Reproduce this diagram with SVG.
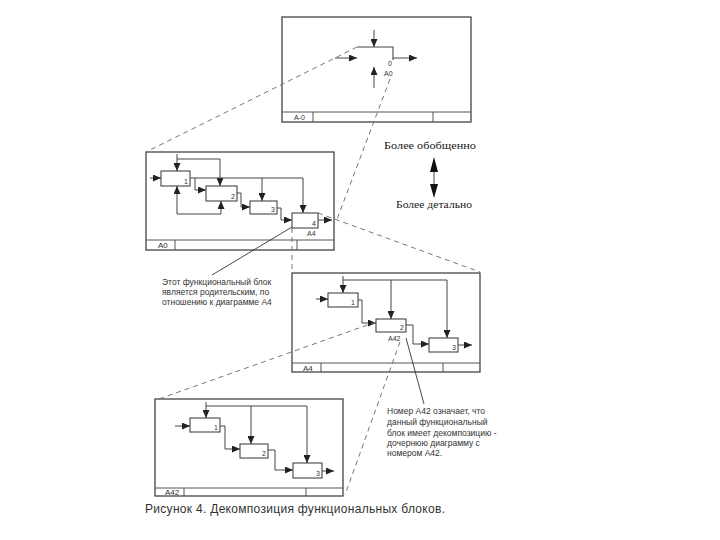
<svg xmlns="http://www.w3.org/2000/svg" width="720" height="540" viewBox="0 0 720 540">
<defs>
<marker id="ah" markerUnits="userSpaceOnUse" markerWidth="9" markerHeight="7" refX="8" refY="3.5" orient="auto">
<path d="M0,0 L8,3.5 L0,7 Z" fill="#222"/>
</marker>
<style>
.frame{fill:#fff;stroke:#444;stroke-width:1.3}
.bar{fill:none;stroke:#555;stroke-width:1}
.box{fill:#fff;stroke:#444;stroke-width:1.1}
.c{fill:none;stroke:#444;stroke-width:1}
.a{fill:none;stroke:#444;stroke-width:1;marker-end:url(#ah)}
.d{fill:none;stroke:#777;stroke-width:1;stroke-dasharray:5,4}
.p{fill:none;stroke:#333;stroke-width:0.9}
.t{font-family:"Liberation Sans",Arial,sans-serif;fill:#333}
.s{font-family:"Liberation Serif","Times New Roman",serif;fill:#222}
</style>
</defs>
<rect width="720" height="540" fill="#fff"/>

<g id="frame-A-0">
<rect class="frame" x="282" y="17" width="189" height="105"/>
<path class="bar" d="M282,112 H471 M313,112 V122 M433,112 V122"/>
<text class="t" x="294" y="120" font-size="7">A-0</text>
<path class="box" d="M357,47 H393 V60" fill="none"/>
<text class="t" x="388" y="66" font-size="7">0</text>
<text class="t" x="384" y="76" font-size="7">A0</text>
</g>

<g id="frame-A0">
<rect class="frame" x="146" y="152" width="188" height="98"/>
<path class="bar" d="M146,240 H334 M175,240 V250 M297,240 V250"/>
<text class="t" x="158" y="248" font-size="8">A0</text>
<g id="a0-box1"><rect class="box" x="161" y="171" width="29" height="15"/><text class="t" x="184" y="184" font-size="7">1</text></g>
<g id="a0-box2"><rect class="box" x="206" y="186" width="31" height="15"/><text class="t" x="231" y="199" font-size="7">2</text></g>
<g id="a0-box3"><rect class="box" x="250" y="201" width="27" height="13"/><text class="t" x="271" y="212" font-size="7">3</text></g>
<g id="a0-box4"><rect class="box" x="292" y="213" width="26" height="15"/><text class="t" x="312" y="226" font-size="7">4</text><text class="t" x="307" y="236" font-size="7">A4</text></g>
</g>

<g id="frame-A4">
<rect class="frame" x="292" y="273" width="188" height="99"/>
<path class="bar" d="M292,363 H480 M321,363 V372 M443,363 V372"/>
<text class="t" x="303" y="371" font-size="8">A4</text>
<g id="a4-box1"><rect class="box" x="328" y="293" width="30" height="14"/><text class="t" x="351" y="305" font-size="7">1</text></g>
<g id="a4-box2"><rect class="box" x="376" y="319" width="30" height="13"/><text class="t" x="400" y="330" font-size="7">2</text><text class="t" x="388" y="341" font-size="7">A42</text></g>
<g id="a4-box3"><rect class="box" x="429" y="338" width="29" height="14"/><text class="t" x="452" y="350" font-size="7">3</text></g>
</g>

<g id="frame-A42">
<rect class="frame" x="155" y="399" width="188" height="97"/>
<path class="bar" d="M155,488 H343 M184,488 V496 M306,488 V496"/>
<text class="t" x="165" y="495" font-size="8">A42</text>
<g id="a42-box1"><rect class="box" x="190" y="418" width="30" height="14"/><text class="t" x="214" y="430" font-size="7">1</text></g>
<g id="a42-box2"><rect class="box" x="240" y="444" width="28" height="14"/><text class="t" x="262" y="456" font-size="7">2</text></g>
<g id="a42-box3"><rect class="box" x="293" y="463" width="29" height="15"/><text class="t" x="316" y="476" font-size="7">3</text></g>
</g>

<g id="connectors">
<path class="a" d="M374,30 V47"/>
<path class="a" d="M335,58 H357"/>
<path class="a" d="M393,58 H417"/>
<path class="a" d="M374,88 V67"/>
<path class="a" d="M150,178 H161"/>
<path class="a" d="M177,154 V171"/>
<path class="a" d="M177,159 H220 V186"/>
<path class="a" d="M190,178 H303 V213"/>
<path class="a" d="M262,178 V201"/>
<path class="a" d="M195,178 V190 H206"/>
<path class="a" d="M237,193 H241 V207 H250"/>
<path class="a" d="M277,208 H281 V220 H292"/>
<path class="a" d="M318,220 H332"/>
<path class="a" d="M177,214 V186"/>
<path class="a" d="M177,214 H221 V201"/>
<path class="a" d="M316,299 H328"/>
<path class="a" d="M343,276 V293"/>
<path class="a" d="M343,280 H447 V338"/>
<path class="a" d="M391,280 V319"/>
<path class="a" d="M358,300 H362 V323 H376"/>
<path class="a" d="M406,325 H413 V344 H429"/>
<path class="a" d="M458,345 H472"/>
<path class="a" d="M175,426 H190"/>
<path class="a" d="M206,402 V418"/>
<path class="a" d="M206,406 H307 V463"/>
<path class="a" d="M251,406 V444"/>
<path class="a" d="M220,426 H225 V449 H240"/>
<path class="a" d="M268,450 H275 V470 H293"/>
<path class="a" d="M322,471 H334"/>
<path class="d" d="M357,47 L146,152"/>
<path class="d" d="M390,79 L336,222"/>
<path class="d" d="M292,228 L292,273"/>
<path class="d" d="M318,213 L480,272"/>
<path class="d" d="M376,322 L156,400"/>
<path class="d" d="M400,342 L345,495"/>
<path class="p" d="M292,227 L212,275"/>
<path class="p" d="M406,338 L424,404"/>
<path class="c" d="M434,168 V188" stroke="#222"/>
<path d="M434,157 L430,172 L438,172 Z" fill="#111"/>
<path d="M434,198 L430,184 L438,184 Z" fill="#111"/>
</g>

<g id="labels">
<text class="s" x="384" y="149" font-size="11" textLength="92" lengthAdjust="spacingAndGlyphs">Более обобщенно</text>
<text class="s" x="396" y="208" font-size="11" textLength="76" lengthAdjust="spacingAndGlyphs">Более детально</text>
<text class="t" x="162" y="285" font-size="8.5">Этот функциональный блок</text>
<text class="t" x="162" y="295" font-size="8.5">является родительским, по</text>
<text class="t" x="162" y="305" font-size="8.5">отношению к диаграмме А4</text>
<text class="t" x="387" y="414" font-size="8.5">Номер А42 означает, что</text>
<text class="t" x="387" y="425" font-size="8.5">данный функциональный</text>
<text class="t" x="387" y="436" font-size="8.5">блок имеет декомпозицию -</text>
<text class="t" x="387" y="446" font-size="8.5">дочернюю диаграмму с</text>
<text class="t" x="387" y="456" font-size="8.5">номером А42.</text>
<text class="t" x="145" y="513" font-size="12" fill="#222" textLength="300" lengthAdjust="spacing">Рисунок 4. Декомпозиция функциональных блоков.</text>
</g>
</svg>
